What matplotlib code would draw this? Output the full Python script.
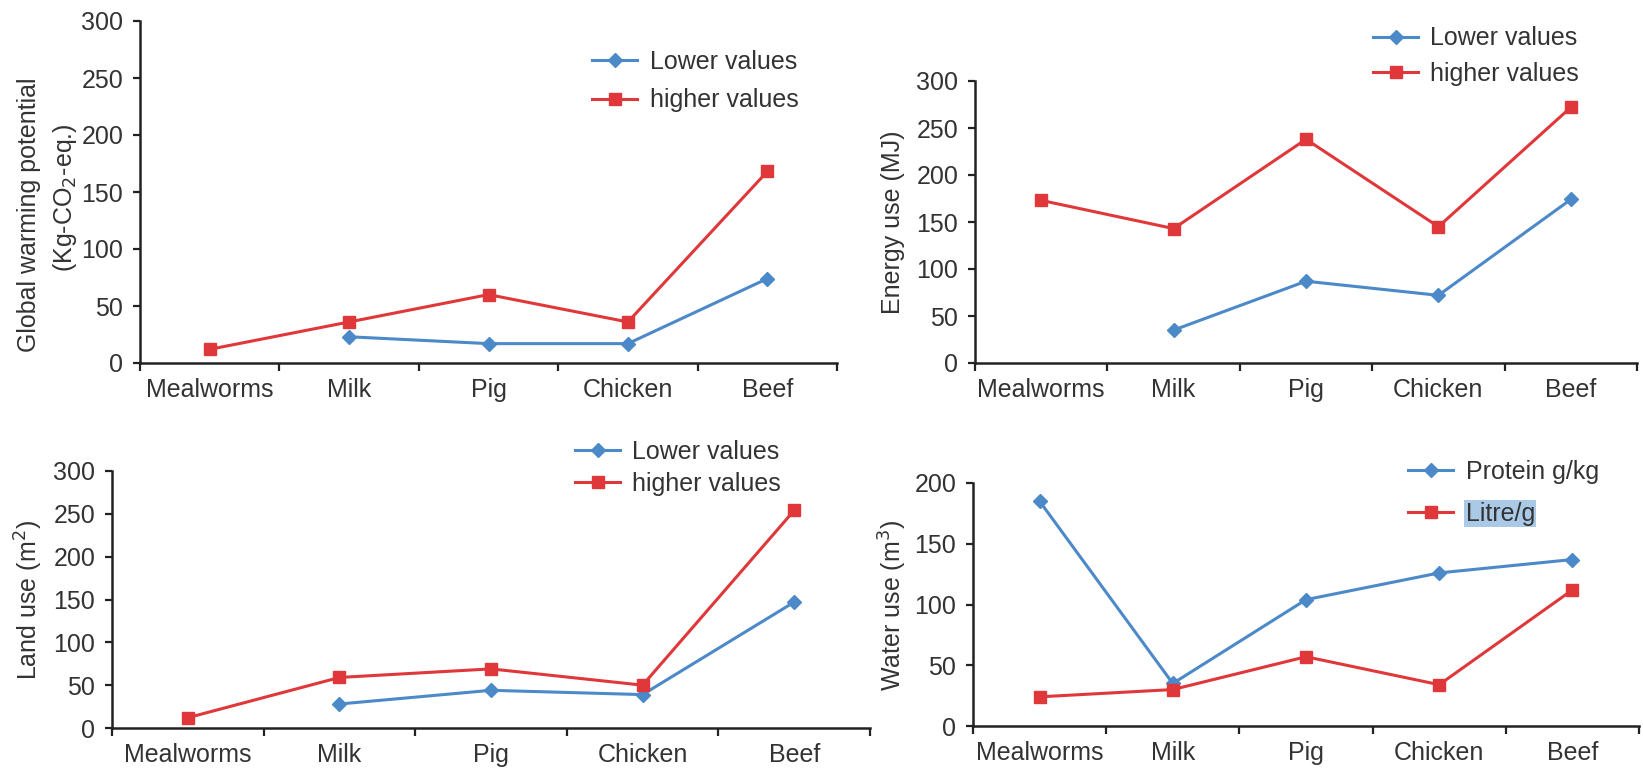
import numpy as np
import matplotlib
matplotlib.use("Agg")
import matplotlib.pyplot as plt

plt.rcParams['font.family'] = ['Liberation Sans', 'DejaVu Sans']

categories = ["Mealworms", "Milk", "Pig", "Chicken", "Beef"]

# global warming potential
gwp_lower = [np.nan, 23, 17, 17, 74]
gwp_higher = [12, 36, 60, 36, 168]

# energy use
energy_lower = [np.nan, 35, 87, 72, 174]
energy_higher = [173, 143, 238, 145, 272]

# land use
land_lower = [np.nan, 28, 44, 39, 147]
land_higher = [12, 59, 69, 50, 254]

# water use
water_protein = [185, 35, 104, 126, 137]
water_litre = [24, 30, 57, 34, 112]

BLUE = "#4c89c8"
RED = "#e0383a"
TXT = "#333333"
FS = 18

W, H = 1643, 771
fig = plt.figure(figsize=(W / 100, H / 100), dpi=100)


def make_ax(x0, x1, y0, ytop):
    # pixel coords -> figure fraction
    return fig.add_axes([x0 / W, 1 - y0 / H, (x1 - x0) / W, (y0 - ytop) / H])


def draw(ax, s1, s2, names, ylim, ystep, leg_xy):
    x = np.arange(len(categories)) + 0.5
    ax.plot(x, s1, color=BLUE, lw=2.2, marker="D", ms=7, label=names[0])
    ax.plot(x, s2, color=RED, lw=2.2, marker="s", ms=8, label=names[1])
    ax.set_xlim(0, len(categories))
    ax.set_ylim(0, ylim)
    ax.set_yticks(np.arange(0, ylim + 1, ystep))
    ax.set_xticks(np.arange(len(categories) + 1))
    ax.set_xticklabels([])
    ax.set_xticks(x, minor=True)
    ax.set_xticklabels(categories, minor=True)
    ax.tick_params(axis="x", which="minor", length=0, pad=11, labelsize=FS, colors=TXT)
    ax.tick_params(axis="x", which="major", length=6, width=1.6, direction="out", color="#222222")
    ax.tick_params(axis="y", length=5, width=1.6, labelsize=FS, colors=TXT, pad=7)
    ax.tick_params(axis="y", color="#222222")
    for s in ["top", "right"]:
        ax.spines[s].set_visible(False)
    for s in ["left", "bottom"]:
        ax.spines[s].set_linewidth(1.8)
        ax.spines[s].set_color("#222222")
    leg = ax.legend(loc="center left", bbox_to_anchor=(leg_xy[0] / W, 1 - leg_xy[1] / H),
                    bbox_transform=fig.transFigure, frameon=False, fontsize=FS,
                    handlelength=1.8, handletextpad=0.5, labelspacing=leg_xy[2],
                    labelcolor=TXT, borderaxespad=0, borderpad=0)
    return leg


def ylab(x, y, s):
    fig.text(x / W, 1 - y / H, s, rotation=90, ha="center", va="center", fontsize=FS, color=TXT)


ax1 = make_ax(140, 837, 363, 21)
draw(ax1, gwp_lower, gwp_higher, ["Lower values", "higher values"], 300, 50, (592, 81, 0.58))
ylab(29, 215, "Global warming potential")
ylab(65, 198, "(Kg-CO$_2$-eq.)")

ax2 = make_ax(975, 1637, 363, 81)
draw(ax2, energy_lower, energy_higher, ["Lower values", "higher values"], 300, 50, (1373, 56, 0.46))
ylab(893, 222, "Energy use (MJ)")

ax3 = make_ax(112, 870, 728, 471)
draw(ax3, land_lower, land_higher, ["Lower values", "higher values"], 300, 50, (575, 468, 0.3))
ylab(29, 600, "Land use (m$^2$)")

ax4 = make_ax(973, 1639, 726, 483)
leg4 = draw(ax4, water_protein, water_litre, ["Protein g/kg", "Litre/g"], 200, 50, (1408, 493, 0.7))
ylab(893, 606, "Water use (m$^3$)")
leg4.get_texts()[1].set_bbox(dict(facecolor="#a9c9e6", edgecolor="none", pad=1))

fig.savefig("out.png", dpi=100, facecolor="white")
